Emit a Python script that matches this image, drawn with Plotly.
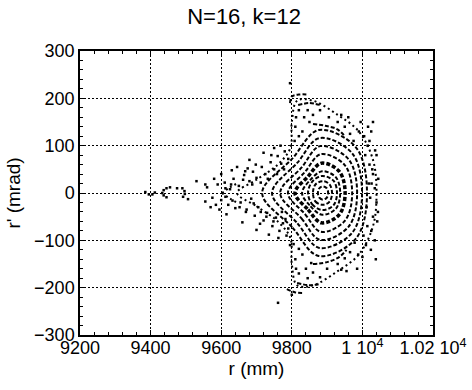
import plotly.graph_objects as go

# ---------------- data (r in mm, r' in mrad) ----------------
title_text = "N=16, k=12"
x_tick_vals = [9200, 9400, 9600, 9800, 10000, 10200]
x_tick_text = ["9200", "9400", "9600", "9800", "1 10<sup>4</sup>", "1.02 10<sup>4</sup>"]
y_tick_vals = [-300, -200, -100, 0, 100, 200, 300]

# nested invariant curves around the fixed point (start/end at the left tip)
ring_a_r = [9874, 9878, 9888, 9899, 9903, 9899, 9888, 9878, 9874]
ring_a_rp = [0, -10, -14, -10, 0, 10, 14, 10, 0]
ring_b_r = [9860, 9867, 9888, 9907, 9914, 9907, 9888, 9867, 9860]
ring_b_rp = [0, -18, -25, -18, 0, 18, 25, 18, 0]
ring_c_r = [9846, 9858, 9886, 9918, 9928, 9918, 9886, 9858, 9846]
ring_c_rp = [0, -24, -36, -26, 0, 26, 36, 24, 0]
ring_d_r = [9829, 9853, 9886, 9925, 9937, 9925, 9886, 9853, 9829]
ring_d_rp = [0, -28, -46, -33, 0, 33, 46, 28, 0]
ring_e_r = [9809, 9846, 9884, 9935, 9951, 9935, 9884, 9846, 9809]
ring_e_rp = [0, -35, -63, -45, 0, 45, 63, 35, 0]
ring_f_r = [9789, 9838, 9882, 9950, 9971, 9950, 9882, 9838, 9789]
ring_f_rp = [0, -45, -82, -59, 0, 59, 82, 45, 0]
ring_g_r = [9767, 9828, 9880, 9961, 9985, 9961, 9880, 9828, 9767]
ring_g_rp = [0, -54, -99, -71, 0, 71, 99, 54, 0]
ring_h_r = [9744, 9816, 9878, 9971, 9999, 9971, 9878, 9816, 9744]
ring_h_rp = [0, -64, -116, -84, 0, 84, 116, 64, 0]
ring_i_r = [9716, 9802, 9876, 9982, 10013, 9982, 9876, 9802, 9716]
ring_i_rp = [0, -73, -133, -96, 0, 96, 133, 73, 0]

# outer (chaotic) layer boundary
ring_j_r = [9645, 9700, 9760, 9796, 9800, 9815, 9860, 9930, 9990, 10030, 10040,
            10030, 9990, 9930, 9860, 9815, 9800, 9796, 9760, 9700, 9645]
ring_j_rp = [0, -28, -60, -95, -150, -195, -195, -165, -130, -70, 0,
             70, 130, 165, 195, 195, 150, 95, 60, 28, 0]
ring_k_r = [9602, 9625, 9650]
ring_k_rp = [0, 12, 22]
ring_k2_r = [9602, 9625, 9650]
ring_k2_rp = [0, -12, -22]

# short arcs in the outer layer
arc_top1_r = [9795, 9800, 9820, 9846]
arc_top1_rp = [190, 204, 208, 208]
arc_top2_r = [9818, 9850, 9880]
arc_top2_rp = [186, 190, 186]
arc_top3_r = [9860, 9895, 9928, 9950]
arc_top3_rp = [146, 142, 135, 120]
arc_bot1_r = [9815, 9850, 9880]
arc_bot1_rp = [-190, -195, -192]
arc_bot2_r = [9786, 9810, 9832]
arc_bot2_rp = [-203, -210, -211]
arc_bot3_r = [9860, 9900, 9935, 9955]
arc_bot3_rp = [-150, -146, -135, -120]

# scattered (chaotic) points
scatter_r = [
    # left islands
    9385, 9395, 9405, 9412, 9445, 9437, 9433, 9437, 9445, 9455, 9475,
    9490, 9496, 9497, 9492, 9506, 9530, 9555, 9555, 9585,
    # wedge
    9560, 9575, 9590, 9600, 9610, 9620, 9625, 9635, 9640, 9650, 9655, 9665,
    9670, 9680, 9685, 9690, 9695, 9700, 9705, 9715, 9720, 9725, 9730, 9740,
    9745, 9750, 9755, 9760, 9765, 9770, 9775, 9780, 9785, 9790, 9790, 9600,
    9615, 9645, 9660, 9680, 9700, 9720, 9735, 9750, 9580, 9570, 9595, 9630,
    9675, 9710,
    9612, 9628, 9662, 9668, 9688, 9698, 9712, 9732, 9742, 9758, 9768, 9778,
    9612, 9632, 9652, 9672, 9692, 9712, 9728, 9748, 9762, 9772, 9782, 9795,
    # right side
    10005, 10015, 10020, 10030, 10035, 10040, 10030, 10025, 10010, 10000,
    10025, 10040, 10045, 10042, 10035, 10018, 10012, 10022, 10008, 10003,
    9995, 9985, 10030, 10038,
    10020, 10028, 10014, 10024, 10044, 10036, 10016, 10026,
    # upper outer layer
    9820, 9835, 9850, 9905, 9930, 9950, 9965, 9975, 9810, 9820, 9808, 9880,
    9860, 9960, 9990, 9795, 9812, 9830, 9845, 9940,
    # lower outer layer
    9820, 9840, 9855, 9900, 9930, 9950, 9965, 9978, 9810, 9820, 9805, 9880,
    9860, 9955, 9988, 9761, 9800, 9812, 9830, 9845, 9940,
]
scatter_rp = [
    2, -3, -3, 1, 10, 6, 0, -5, -9, 12, 10,
    10, 4, -2, -8, -13, 25, 18, -18, -25,
    12, -10, 18, -15, 22, -25, 8, 30, -32, 15, -20, 38,
    -40, 25, -12, 45, -48, 32, -30, 55, -58, 40, -42, 65,
    -70, 50, -52, 78, -80, 62, -64, 88, -90, 72, -75, 40,
    -45, 55, -62, 70, -78, 85, -88, 95, 30, -30, -35, 48,
    52, -65,
    10, 18, 28, 46, 18, 60, 22, 30, 80, 40, 100, 50,
    -8, -16, -30, -35, -22, -40, -50, -60, -95, -40, -55, -110,
    120, 100, 60, 40, 10, -20, -50, -80, -110, -135,
    130, 80, 30, -60, -100, 20, -30, -10, 80, -90,
    150, -160, 150, -140,
    110, 50, -70, -120, -40, 90, 140, 20,
    175, 160, 150, 160, 150, 140, 125, 110, 140, 120, 110, 175,
    165, 160, 130, 232, 160, 130, 175, 165,
    -170, -160, -148, -160, -150, -138, -125, -105, -140, -118, -108, -178,
    -168, -165, -130, -232, -215, -160, -130, -180, -162,
]

# ---------------- figure ----------------
FONT = "Liberation Sans, Arial, sans-serif"
fig = go.Figure()

rings = [
    (ring_a_r, ring_a_rp, 2.0), (ring_b_r, ring_b_rp, 2.0), (ring_c_r, ring_c_rp, 2.0),
    (ring_d_r, ring_d_rp, 2.0), (ring_e_r, ring_e_rp, 3.5), (ring_f_r, ring_f_rp, 2.0),
    (ring_g_r, ring_g_rp, 2.0), (ring_h_r, ring_h_rp, 2.0), (ring_i_r, ring_i_rp, 2.0),
]
for rr, rp, w in rings:
    fig.add_trace(go.Scatter(
        x=rr, y=rp, mode="lines",
        line=dict(color="black", width=w, dash="4px,2px", shape="spline", smoothing=1.0),
        hoverinfo="skip", showlegend=False))

for rr, rp in [(ring_j_r, ring_j_rp), (ring_k_r, ring_k_rp), (ring_k2_r, ring_k2_rp)]:
    fig.add_trace(go.Scatter(
        x=rr, y=rp, mode="lines",
        line=dict(color="black", width=2, dash="2px,3px", shape="spline", smoothing=1.0),
        hoverinfo="skip", showlegend=False))

arcs = [(arc_top1_r, arc_top1_rp), (arc_top2_r, arc_top2_rp), (arc_top3_r, arc_top3_rp),
        (arc_bot1_r, arc_bot1_rp), (arc_bot2_r, arc_bot2_rp), (arc_bot3_r, arc_bot3_rp)]
for rr, rp in arcs:
    fig.add_trace(go.Scatter(
        x=rr, y=rp, mode="lines",
        line=dict(color="black", width=2, dash="4px,2px", shape="spline", smoothing=1.0),
        hoverinfo="skip", showlegend=False))

fig.add_trace(go.Scatter(
    x=scatter_r, y=scatter_rp, mode="markers",
    marker=dict(color="black", size=2.5, symbol="square"),
    hoverinfo="skip", showlegend=False))

axis_common = dict(
    showline=True, linecolor="black", linewidth=1.5, mirror="ticks",
    ticks="inside", ticklen=5, tickwidth=1, tickcolor="black",
    showgrid=True, gridcolor="black", gridwidth=1, griddash="2px,2px",
    zeroline=False, tickfont=dict(family=FONT, size=18, color="black"),
    automargin=False,
)

fig.update_layout(
    width=472, height=390,
    margin=dict(l=80, r=39, t=51, b=55),
    paper_bgcolor="white", plot_bgcolor="white",
    title=dict(text=title_text, x=0.517, xref="container", xanchor="center",
               y=0.958, yref="container", yanchor="middle",
               font=dict(family=FONT, size=22, color="black")),
    xaxis=dict(range=[9200, 10200], tickmode="array", tickvals=x_tick_vals,
               ticktext=x_tick_text, ticklabelstandoff=-4,
               minor=dict(dtick=40, tick0=9200, ticks="inside", ticklen=3,
                          tickcolor="black", showgrid=False),
               title=dict(text="r (mm)", standoff=2,
                          font=dict(family=FONT, size=19, color="black")),
               **axis_common),
    yaxis=dict(range=[-300, 300], tickmode="array", tickvals=y_tick_vals,
               minor=dict(dtick=20, tick0=-300, ticks="inside", ticklen=3,
                          tickcolor="black", showgrid=False),
               title=dict(text="r' (mrad)", standoff=8,
                          font=dict(family=FONT, size=19, color="black")),
               **axis_common),
)

fig.write_html("out.html")
